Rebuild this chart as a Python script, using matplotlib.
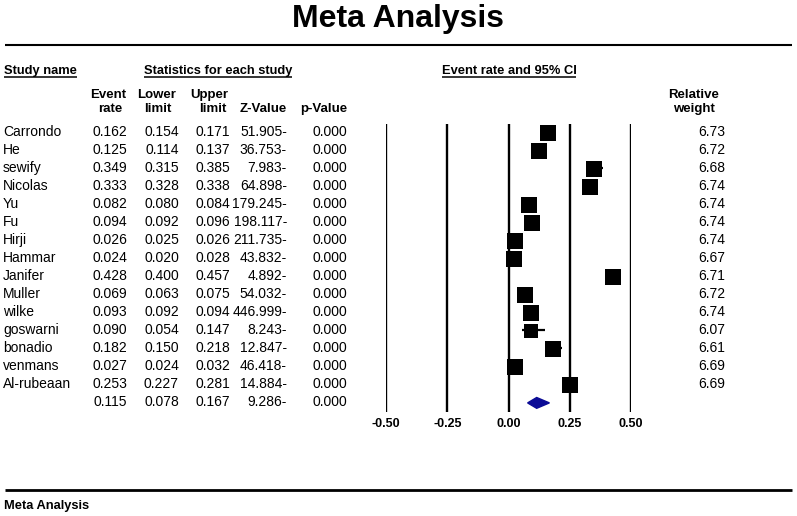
import matplotlib
matplotlib.use("Agg")
import matplotlib.pyplot as plt
import matplotlib.transforms as mtransforms
import numpy as np

plt.rcParams['font.family'] = ['Liberation Sans', 'DejaVu Sans']

studies = ["Carrondo", "He", "sewify", "Nicolas", "Yu", "Fu", "Hirji", "Hammar",
           "Janifer", "Muller", "wilke", "goswarni", "bonadio", "venmans", "Al-rubeaan"]
event_rate = [0.162, 0.125, 0.349, 0.333, 0.082, 0.094, 0.026, 0.024,
              0.428, 0.069, 0.093, 0.090, 0.182, 0.027, 0.253]
lower = [0.154, 0.114, 0.315, 0.328, 0.080, 0.092, 0.025, 0.020,
         0.400, 0.063, 0.092, 0.054, 0.150, 0.024, 0.227]
upper = [0.171, 0.137, 0.385, 0.338, 0.084, 0.096, 0.026, 0.028,
         0.457, 0.075, 0.094, 0.147, 0.218, 0.032, 0.281]
z_value = ["51.905-", "36.753-", "7.983-", "64.898-", "179.245-", "198.117-", "211.735-",
           "43.832-", "4.892-", "54.032-", "446.999-", "8.243-", "12.847-", "46.418-", "14.884-"]
p_value = ["0.000"] * 15
weights = [6.73, 6.72, 6.68, 6.74, 6.74, 6.74, 6.74, 6.67, 6.71, 6.72, 6.74, 6.07, 6.61, 6.69, 6.69]

summary_rate, summary_lower, summary_upper = 0.115, 0.078, 0.167
summary_z, summary_p = "9.286-", "0.000"

ticks = [-0.50, -0.25, 0.00, 0.25, 0.50]
tick_labels = ["-0.50", "-0.25", "0.00", "0.25", "0.50"]

W, H = 797, 516
fig = plt.figure(figsize=(W / 100, H / 100), dpi=100)
fig.patch.set_facecolor("white")

# overlay axes in pixel coordinates
ax0 = fig.add_axes([0, 0, 1, 1])
ax0.set_xlim(0, W)
ax0.set_ylim(H, 0)
ax0.axis("off")

row0, step = 132, 18
n = len(studies)

def row_y(i):
    return row0 + step * i

# title
ax0.text(W / 2, 19, "Meta Analysis", ha="center", va="center", fontsize=23, fontweight="bold")
ax0.plot([5, 792], [45, 45], color="black", lw=1.5, solid_capstyle="butt")

# underlined header texts
hdrs = []
hdrs.append(ax0.text(4, 71, "Study name", ha="left", va="center", fontsize=9.3, fontweight="bold"))
hdrs.append(ax0.text(218, 71, "Statistics for each study", ha="center", va="center", fontsize=9.3, fontweight="bold"))
hdrs.append(ax0.text(509, 71, "Event rate and 95% CI", ha="center", va="center", fontsize=9.3, fontweight="bold"))

# column headers
hfs = 9.5
ax0.text(108, 95, "Event", ha="center", va="center", fontsize=hfs, fontweight="bold")
ax0.text(110, 109, "rate", ha="center", va="center", fontsize=hfs, fontweight="bold")
ax0.text(157, 95, "Lower", ha="center", va="center", fontsize=hfs, fontweight="bold")
ax0.text(158, 109, "limit", ha="center", va="center", fontsize=hfs, fontweight="bold")
ax0.text(209, 95, "Upper", ha="center", va="center", fontsize=hfs, fontweight="bold")
ax0.text(213, 109, "limit", ha="center", va="center", fontsize=hfs, fontweight="bold")
ax0.text(287, 109, "Z-Value", ha="right", va="center", fontsize=hfs, fontweight="bold")
ax0.text(347, 109, "p-Value", ha="right", va="center", fontsize=hfs, fontweight="bold")
ax0.text(694, 95, "Relative", ha="center", va="center", fontsize=hfs, fontweight="bold")
ax0.text(694, 109, "weight", ha="center", va="center", fontsize=hfs, fontweight="bold")

fs = 10
for i in range(n):
    y = row_y(i)
    ax0.text(3, y, studies[i], ha="left", va="center", fontsize=fs)
    ax0.text(127, y, f"{event_rate[i]:.3f}", ha="right", va="center", fontsize=fs)
    ax0.text(179, y, f"{lower[i]:.3f}", ha="right", va="center", fontsize=fs)
    ax0.text(230, y, f"{upper[i]:.3f}", ha="right", va="center", fontsize=fs)
    ax0.text(287, y, z_value[i], ha="right", va="center", fontsize=fs)
    ax0.text(347, y, p_value[i], ha="right", va="center", fontsize=fs)
    ax0.text(725, y, f"{weights[i]:.2f}", ha="right", va="center", fontsize=fs)

ys = row_y(n)
ax0.text(127, ys, f"{summary_rate:.3f}", ha="right", va="center", fontsize=fs)
ax0.text(179, ys, f"{summary_lower:.3f}", ha="right", va="center", fontsize=fs)
ax0.text(230, ys, f"{summary_upper:.3f}", ha="right", va="center", fontsize=fs)
ax0.text(287, ys, summary_z, ha="right", va="center", fontsize=fs)
ax0.text(347, ys, summary_p, ha="right", va="center", fontsize=fs)

# footer
ax0.plot([5, 792], [490, 490], color="black", lw=2, solid_capstyle="butt")
ax0.text(4, 506, "Meta Analysis", ha="left", va="center", fontsize=9.3, fontweight="bold")

# forest axes
px_l, px_r, px_t, px_b = 386, 631, 124, 412
ax = fig.add_axes([px_l / W, (H - px_b) / H, (px_r - px_l) / W, (px_b - px_t) / H])
ax.set_xlim(-0.5, 0.5)
ax.set_ylim((px_b - row0) / step, (px_t - row0) / step)
ax.axis("off")
ax.patch.set_alpha(0)

for t in ticks:
    ax.axvline(t, color="black", lw=1.7, zorder=1)

yidx = np.arange(n)
ax.hlines(yidx, lower, upper, color="black", lw=1.6, zorder=2, clip_on=False)
sizes = [11.2 * np.sqrt(w / max(weights)) for w in weights]
for i in range(n):
    ax.plot(event_rate[i], i + 0.05, marker="s", markersize=sizes[i], color="black",
            markeredgewidth=0, zorder=3, clip_on=False)

dh = 0.3
yc = n + 0.05
ax.fill([summary_lower, summary_rate, summary_upper, summary_rate],
        [yc, yc - dh, yc, yc + dh], color="#0b0b96", zorder=3, clip_on=False)

trans = mtransforms.blended_transform_factory(ax.transData, ax0.transData)
for t, lab in zip(ticks, tick_labels):
    ax0.text(t, 424, lab, transform=trans, ha="center", va="center", fontsize=9, fontweight="bold")

# underlines
fig.canvas.draw()
r = fig.canvas.get_renderer()
inv = ax0.transData.inverted()
for tx in hdrs:
    bb = tx.get_window_extent(renderer=r)
    (x0, y0), (x1, y1) = inv.transform([[bb.x0, bb.y0], [bb.x1, bb.y1]])
    ax0.plot([x0, x1], [y0 - 0.5, y0 - 0.5], color="black", lw=1.1, solid_capstyle="butt")

fig.savefig("out.png", dpi=100, facecolor="white")
